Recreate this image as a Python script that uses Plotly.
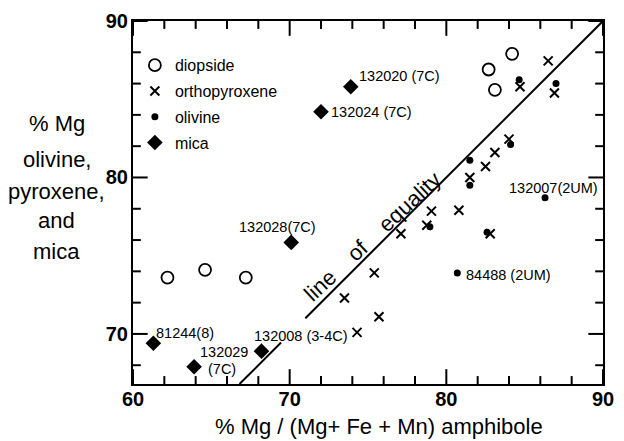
import plotly.graph_objects as go

# ---- data ----
diopside_x = [62.2, 64.6, 67.2, 82.7, 83.1, 84.2]
diopside_y = [73.6, 74.1, 73.6, 86.9, 85.6, 87.9]

opx_x = [73.5, 74.3, 75.4, 75.7, 77.1, 78.75, 79.05, 80.8, 81.5, 82.5, 82.8, 83.1, 84.0, 84.7, 86.5, 86.9]
opx_y = [72.3, 70.1, 73.9, 71.1, 76.4, 76.95, 77.85, 77.9, 80.0, 80.7, 76.4, 81.6, 82.45, 85.8, 87.45, 85.4]

olivine_x = [78.95, 80.7, 81.5, 81.5, 82.6, 84.1, 84.65, 86.3, 87.0]
olivine_y = [76.85, 73.9, 81.1, 79.5, 76.5, 82.1, 86.25, 78.7, 86.0]

mica_x = [61.3, 63.9, 68.2, 70.1, 72.0, 73.9]
mica_y = [69.4, 67.9, 68.9, 75.85, 84.2, 85.8]

# sample labels: text, anchor point (x, y)
sample_labels = ["132020 (7C)", "132024 (7C)", "132028(7C)", "132007(2UM)", "84488 (2UM)",
                 "81244(8)", "132029", "(7C)", "132008 (3-4C)"]
sample_label_x = [74.28, 72.48, 69.2, 83.9, 81.15, 61.31, 64.13, 64.63, 67.58]
sample_label_y = [86.47, 84.18, 76.82, 79.34, 73.78, 70.09, 68.83, 67.79, 69.89]
sample_label_anchor = ["left", "left", "center", "left", "left", "left", "left", "left", "left"]

# line of equality (y = x), drawn in two pieces
equality_seg1 = [66.8, 69.45]
equality_seg2 = [71.0, 90.0]

x_ticks = [60, 70, 80, 90]
y_ticks = [70, 80, 90]
x_minor_ticks = [v for v in range(62, 90, 2) if v not in x_ticks]
y_minor_ticks = [v for v in range(68, 90, 2) if v not in y_ticks]
x_range = [60, 90]
y_range = [66.8, 90]

y_title_lines = ["% Mg", "olivine,", "pyroxene,", "and", "mica"]
x_title = "% Mg / (Mg+ Fe + Mn) amphibole"

FONT = "Liberation Sans, Arial, sans-serif"
L, R, T, B = 133, 10, 17, 57
PW, PH = 624 - L - R, 441 - T - B
MAJOR_LEN, MINOR_LEN = 15, 8
DX = (x_range[1] - x_range[0]) / PW   # data units per pixel
DY = (y_range[1] - y_range[0]) / PH

fig = go.Figure()

fig.add_trace(go.Scatter(x=equality_seg1, y=equality_seg1, mode="lines",
                         line=dict(color="black", width=2), showlegend=False, hoverinfo="skip"))
fig.add_trace(go.Scatter(x=equality_seg2, y=equality_seg2, mode="lines",
                         line=dict(color="black", width=2), showlegend=False, hoverinfo="skip"))

# inward tick marks on all four sides (built from the tick lists)
tx, ty = [], []
for vals, ln in ((x_ticks, MAJOR_LEN), (x_minor_ticks, MINOR_LEN)):
    for v in vals:
        tx += [v, v, None, v, v, None]
        ty += [y_range[0], y_range[0] + ln * DY, None, y_range[1], y_range[1] - ln * DY, None]
for vals, ln in ((y_ticks, MAJOR_LEN), (y_minor_ticks, MINOR_LEN)):
    for v in vals:
        tx += [x_range[0], x_range[0] + ln * DX, None, x_range[1], x_range[1] - ln * DX, None]
        ty += [v, v, None, v, v, None]
fig.add_trace(go.Scatter(x=tx, y=ty, mode="lines", line=dict(color="black", width=2),
                         showlegend=False, hoverinfo="skip", connectgaps=False))

fig.add_trace(go.Scatter(x=diopside_x, y=diopside_y, mode="markers", name="diopside",
                         legendgroup="a",
                         marker=dict(symbol="circle-open", size=12, color="black",
                                     line=dict(width=1.8, color="black"))))
fig.add_trace(go.Scatter(x=opx_x, y=opx_y, mode="markers", name="orthopyroxene",
                         legendgroup="b",
                         marker=dict(symbol="x-thin", size=9, color="black",
                                     line=dict(width=2, color="black"))))
fig.add_trace(go.Scatter(x=olivine_x, y=olivine_y, mode="markers", name="olivine",
                         legendgroup="c",
                         marker=dict(symbol="circle", size=7, color="black")))
fig.add_trace(go.Scatter(x=mica_x, y=mica_y, mode="markers", name="mica",
                         legendgroup="d",
                         marker=dict(symbol="diamond", size=12, color="black")))

for t, x, y, a in zip(sample_labels, sample_label_x, sample_label_y, sample_label_anchor):
    fig.add_annotation(x=x, y=y, text=t, showarrow=False, xanchor=a, yanchor="middle",
                       font=dict(family=FONT, size=14.5, color="black"))

fig.add_annotation(x=75.3, y=76.22, text="line\u00a0\u00a0\u00a0\u00a0of\u00a0\u00a0\u00a0\u00a0equality",
                   showarrow=False, textangle=-43,
                   font=dict(family=FONT, size=22, color="black"))

# y title lines
y_line_px = [121, 157, 189, 219, 250]
for t, py in zip(y_title_lines, y_line_px):
    fig.add_annotation(xref="paper", yref="paper", x=(55 - L) / PW,
                       y=1 - (py - T) / PH, text=t, showarrow=False,
                       xanchor="center", yanchor="middle",
                       font=dict(family=FONT, size=22, color="black"))

fig.add_annotation(xref="paper", yref="paper", x=(385 - L) / PW, y=1 - (427 - T) / PH,
                   text=x_title, showarrow=False, xanchor="center", yanchor="middle",
                   font=dict(family=FONT, size=22, color="black"))

axis_common = dict(showgrid=False, zeroline=False, showline=True, linecolor="black", linewidth=2,
                   mirror=True, ticks="",
                   tickfont=dict(family=FONT, size=20, color="black", weight=600))

fig.update_layout(
    width=624, height=441,
    margin=dict(l=L, r=R, t=T, b=B),
    paper_bgcolor="white", plot_bgcolor="white",
    xaxis=dict(range=x_range, tickvals=x_ticks, ticklabelstandoff=-4, **axis_common),
    yaxis=dict(range=y_range, tickvals=y_ticks, ticklabelstandoff=-1, **axis_common),
    showlegend=True,
    legend=dict(x=0.004, y=0.925, xanchor="left", yanchor="top", bgcolor="rgba(0,0,0,0)",
                font=dict(family=FONT, size=16, color="black"), tracegroupgap=2,
                itemsizing="trace"),
)

fig.write_html("out.html", config={"displayModeBar": False},
               post_script="document.body.style.margin='0px';")
